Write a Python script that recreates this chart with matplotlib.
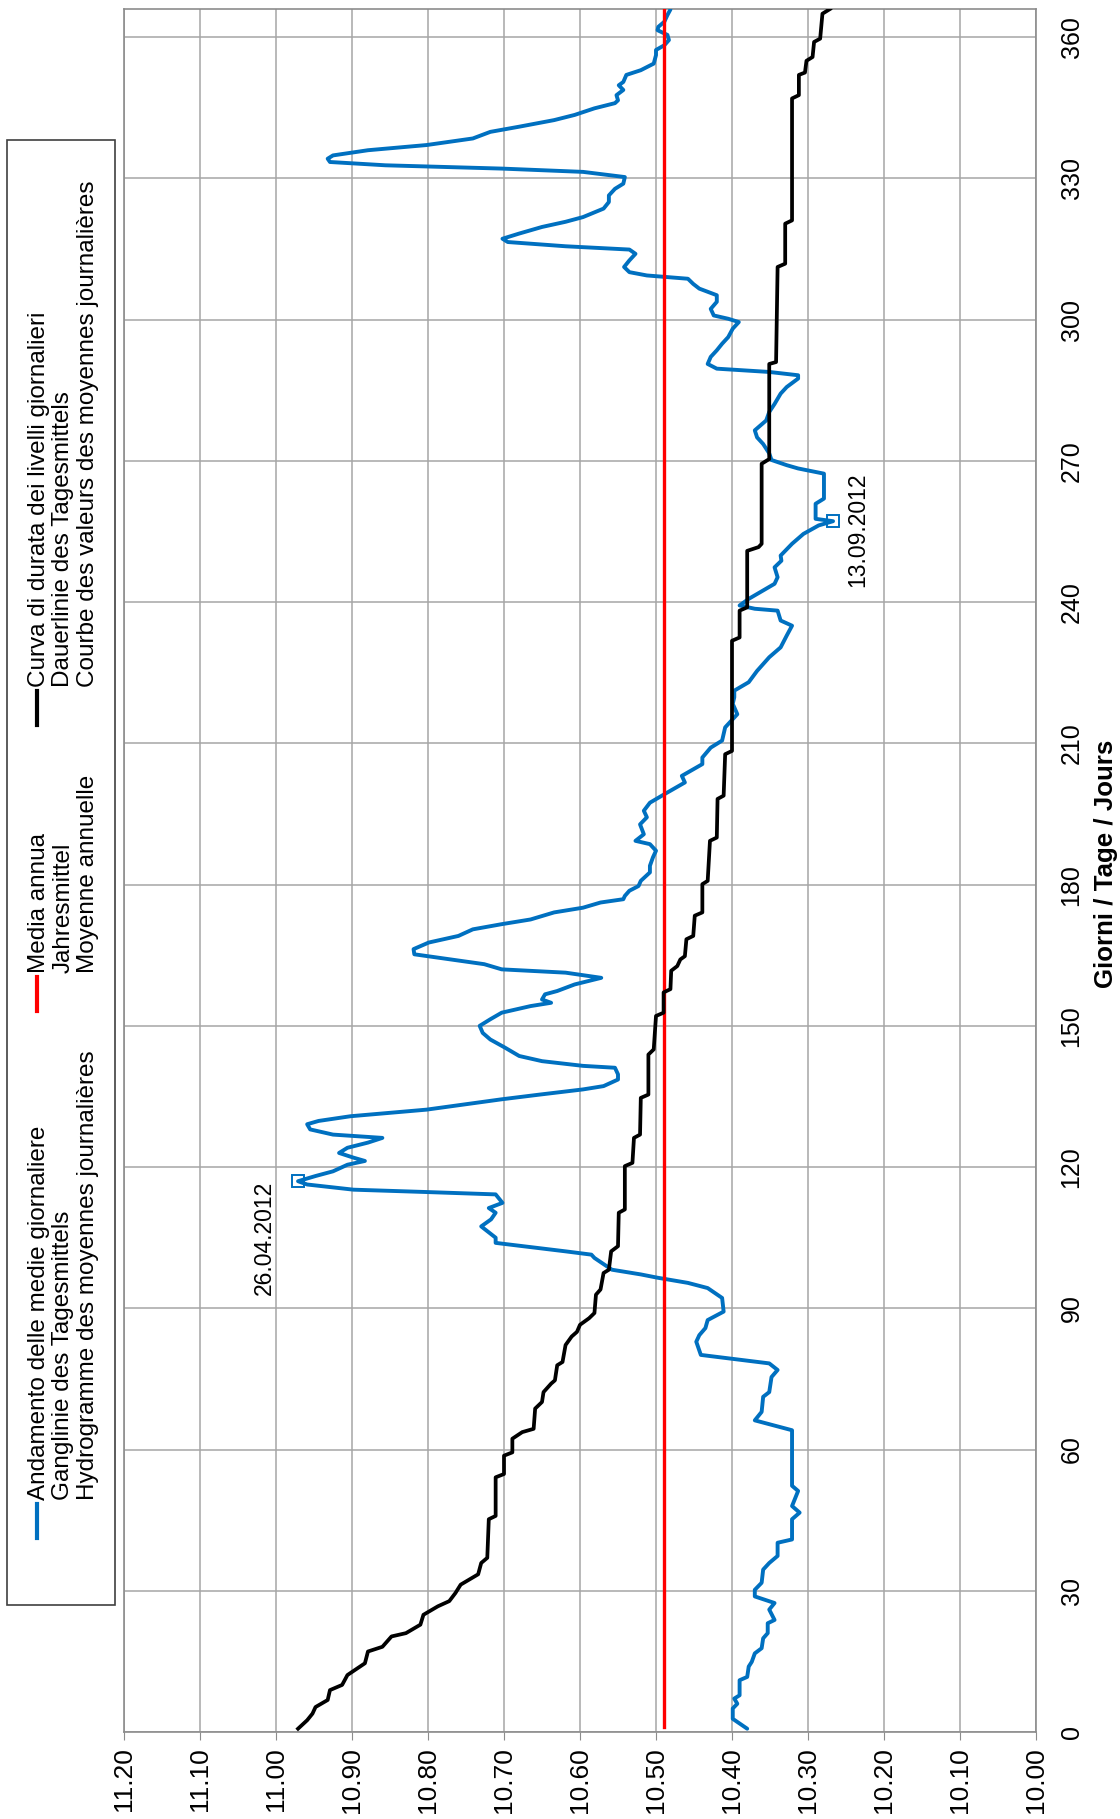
#!/usr/bin/env python3
import matplotlib
matplotlib.use("Agg")
import matplotlib.pyplot as plt
import numpy as np
from matplotlib.lines import Line2D
from matplotlib.patches import Rectangle

plt.rcParams["font.family"] = ["Liberation Sans", "DejaVu Sans"]

W, H = 1120, 1819

# daily mean water level (hydrograph), day of year / level
hydro_day = [
    0.7, 2.8, 5.0, 6.0, 7.1, 7.8, 11.0, 11.7, 13.9, 14.9, 16.7, 17.8, 19.9, 21.0,
    23.1, 23.8, 26.0, 27.4, 28.8, 30.2, 31.7, 34.5, 35.9, 37.4, 40.2, 40.9, 45.2,
    46.6, 48.0, 51.2, 52.3, 64.1, 66.2, 68.0, 71.2, 72.2, 75.4, 76.9, 78.3, 80.1,
    82.9, 84.3, 85.8, 87.5, 89.3, 92.2, 94.3, 95.4, 96.5, 97.2, 98.2, 100.7,
    101.4, 102.1, 103.9, 105.0, 107.4, 108.9, 110.3, 111.3, 112.4, 114.2, 114.7,
    115.2, 116.3, 117.0, 118.1, 119.1, 120.5, 121.3, 122.0, 123.0, 124.1, 125.2,
    126.2, 126.9, 128.0, 129.1, 129.8, 130.8, 132.2, 134.4, 135.4, 136.5, 137.2,
    138.6, 139.7, 141.1, 141.5, 142.5, 143.6, 145.4, 147.1, 148.5, 150.0, 151.4,
    152.8, 154.2, 154.9, 155.6, 156.7, 157.4, 158.8, 160.2, 161.3, 162.0, 163.1,
    164.5, 165.2, 166.3, 167.7, 169.1, 170.5, 171.6, 172.6, 174.1, 175.1, 176.2,
    176.9, 177.6, 178.7, 179.7, 180.8, 182.6, 184.0, 185.8, 187.2, 188.6, 189.3,
    190.7, 192.8, 194.3, 195.7, 197.4, 199.2, 201.7, 203.1, 205.6, 207.0, 209.1,
    210.6, 213.4, 216.2, 218.4, 219.8, 221.2, 223.0, 225.4, 228.3, 230.4, 232.9,
    235.0, 236.1, 238.2, 238.6, 239.3, 240.7, 243.9, 245.3, 247.4, 248.8, 249.9,
    252.4, 254.5, 256.3, 257.2, 257.7, 260.9, 262.0, 267.3, 268.4, 269.1, 270.2,
    271.6, 273.6, 275.0, 276.5, 278.6, 280.4, 282.1, 284.3, 285.7, 287.5, 288.2,
    288.9, 289.6, 290.6, 292.1, 293.5, 294.9, 296.3, 298.1, 299.5, 300.2, 300.9,
    302.3, 303.8, 305.2, 306.6, 307.6, 308.7, 309.4, 310.1, 311.2, 312.6, 314.0,
    314.9, 315.6, 316.5, 317.2, 318.3, 319.7, 320.8, 321.8, 323.6, 325.0, 326.4,
    327.8, 328.9, 330.3, 331.4, 332.1, 332.8, 333.5, 334.2, 334.9, 336.0, 337.1,
    338.5, 339.9, 341.0, 342.4, 343.5, 344.9, 346.0, 346.6, 347.7, 348.8, 349.8,
    350.5, 352.0, 353.0, 354.4, 356.2, 357.3, 358.3, 359.4, 360.5, 361.5, 362.2,
    363.3, 364.7, 365.9,
]
hydro_level = [
    10.380, 10.399, 10.399, 10.393, 10.397, 10.390, 10.390, 10.380, 10.378, 10.374,
    10.370, 10.361, 10.359, 10.353, 10.353, 10.344, 10.351, 10.344, 10.370, 10.370,
    10.361, 10.359, 10.351, 10.340, 10.340, 10.321, 10.321, 10.311, 10.321, 10.313,
    10.321, 10.321, 10.370, 10.361, 10.359, 10.351, 10.348, 10.340, 10.351, 10.441,
    10.447, 10.443, 10.435, 10.432, 10.411, 10.413, 10.432, 10.458, 10.498,
    10.520, 10.558, 10.581, 10.585, 10.619, 10.711, 10.711, 10.730, 10.717, 10.711,
    10.720, 10.702, 10.711, 10.802, 10.898, 10.959, 10.971, 10.948, 10.925, 10.906,
    10.883, 10.898, 10.917, 10.906, 10.879, 10.860, 10.925, 10.955, 10.959, 10.944,
    10.902, 10.802, 10.703, 10.653, 10.596, 10.569, 10.550, 10.550, 10.554, 10.596,
    10.650, 10.680, 10.699, 10.718, 10.728, 10.732, 10.718, 10.703, 10.665, 10.638,
    10.650, 10.646, 10.630, 10.607, 10.572, 10.619, 10.703, 10.726, 10.787, 10.818,
    10.819, 10.799, 10.760, 10.741, 10.703, 10.665, 10.634, 10.596, 10.573, 10.543,
    10.541, 10.535, 10.523, 10.520, 10.508, 10.508, 10.504, 10.500, 10.508, 10.527,
    10.516, 10.521, 10.512, 10.516, 10.508, 10.489, 10.462, 10.466, 10.439, 10.439,
    10.428, 10.413, 10.409, 10.393, 10.399, 10.397, 10.397, 10.378, 10.367, 10.351,
    10.336, 10.328, 10.321, 10.336, 10.340, 10.370, 10.390, 10.378, 10.344, 10.340,
    10.344, 10.335, 10.336, 10.321, 10.306, 10.286, 10.267, 10.290, 10.290, 10.279,
    10.279, 10.313, 10.328, 10.348, 10.351, 10.359, 10.367, 10.370, 10.355, 10.351,
    10.344, 10.336, 10.328, 10.313, 10.313, 10.351, 10.420, 10.432, 10.428, 10.420,
    10.413, 10.405, 10.399, 10.391, 10.405, 10.424, 10.428, 10.420, 10.420, 10.443,
    10.451, 10.458, 10.512, 10.535, 10.542, 10.535, 10.527, 10.535, 10.619, 10.695,
    10.702, 10.680, 10.650, 10.619, 10.596, 10.569, 10.562, 10.562, 10.554, 10.543,
    10.541, 10.596, 10.703, 10.856, 10.929, 10.932, 10.925, 10.879, 10.802, 10.741,
    10.718, 10.680, 10.634, 10.607, 10.581, 10.554, 10.550, 10.552, 10.543, 10.549,
    10.543, 10.539, 10.520, 10.503, 10.500, 10.500, 10.489, 10.483, 10.485, 10.498,
    10.497, 10.489, 10.485, 10.481,
]

# duration curve of the daily levels (sorted), vertices
dur_day = [
    0.7, 2.5, 3.9, 5.3, 6.8, 8.9, 10.0, 12.1, 14.6, 17.1, 18.1, 20.3, 21.0, 22.8,
    24.9, 26.7, 27.8, 29.5, 31.3, 33.5, 35.9, 37.0, 45.2, 45.9, 54.1, 54.8, 58.7,
    59.4, 62.3, 63.7, 64.4, 68.7, 70.1, 72.2, 74.0, 74.7, 77.9, 78.6, 82.2, 84.0,
    85.0, 86.5, 87.9, 89.0, 92.9, 94.0, 97.5, 98.2, 102.1, 103.2, 110.3, 111.0,
    120.2, 120.9, 126.2, 126.9, 134.7, 135.4, 143.9, 145.0, 152.1, 152.8, 157.1,
    157.8, 161.7, 162.7, 164.1, 164.8, 168.4, 169.1, 173.4, 174.1, 180.1, 180.8,
    189.3, 190.0, 198.2, 198.9, 207.7, 208.4, 231.8, 232.5, 238.2, 238.9, 250.9,
    251.7, 252.4, 269.4, 270.4, 290.6, 291.0, 311.2, 311.9, 320.4, 321.1, 347.0,
    347.7, 352.0, 352.5, 355.0, 355.8, 359.0, 359.7, 365.0, 366.0,
]
dur_level = [
    10.971, 10.959, 10.952, 10.948, 10.932, 10.929, 10.913, 10.906, 10.883, 10.879,
    10.860, 10.848, 10.829, 10.810, 10.806, 10.787, 10.772, 10.764, 10.757, 10.734,
    10.730, 10.722, 10.720, 10.711, 10.711, 10.700, 10.700, 10.689, 10.689, 10.676,
    10.661, 10.659, 10.650, 10.648, 10.638, 10.633, 10.630, 10.623, 10.619, 10.611,
    10.604, 10.600, 10.588, 10.581, 10.579, 10.573, 10.569, 10.562, 10.559, 10.550,
    10.549, 10.541, 10.541, 10.531, 10.529, 10.521, 10.520, 10.510, 10.510, 10.503,
    10.500, 10.490, 10.490, 10.481, 10.480, 10.472, 10.468, 10.462, 10.460, 10.451,
    10.449, 10.439, 10.439, 10.432, 10.429, 10.420, 10.419, 10.411, 10.409, 10.400,
    10.400, 10.390, 10.390, 10.380, 10.380, 10.365, 10.361, 10.361, 10.351, 10.351,
    10.342, 10.340, 10.330, 10.330, 10.321, 10.321, 10.312, 10.312, 10.304, 10.302,
    10.294, 10.292, 10.284, 10.281, 10.271,
]

mean_level = 10.49
mean_days = [1, 366]

peak_labels = ["26.04.2012", "13.09.2012"]

level_ticks = [10.0, 10.1, 10.2, 10.3, 10.4, 10.5, 10.6, 10.7, 10.8, 10.9, 11.0, 11.1, 11.2]
day_ticks = [0, 30, 60, 90, 120, 150, 180, 210, 240, 270, 300, 330, 360]

legend_colors = ["#0070C0", "#FF0000", "#000000"]
legend_texts = [
    ["Andamento delle medie giornaliere", "Ganglinie des Tagesmittels",
     "Hydrogramme des moyennes journalières"],
    ["Media annua", "Jahresmittel", "Moyenne annuelle"],
    ["Curva di durata dei livelli giornalieri", "Dauerlinie des Tagesmittels",
     "Courbe des valeurs des moyennes journalières"],
]
axis_title = "Giorni / Tage / Jours"

GRID = "#a6a6a6"
SPINE = "#8c8c8c"


def fx(px):
    return px / W


def fy(py):
    return 1 - py / H


def main():
    fig = plt.figure(figsize=(W / 100, H / 100), dpi=100)
    ax = fig.add_axes([fx(124), fy(1732), fx(1036 - 124), (1732 - 9) / H])

    # chart is drawn turned by 90 degrees: levels across, days upward
    ax.plot(hydro_level, hydro_day, color=legend_colors[0], lw=2.8,
            solid_joinstyle="round", solid_capstyle="round", zorder=3)
    ax.plot([mean_level, mean_level], mean_days, color=legend_colors[1], lw=2.4, zorder=4)
    ax.plot(dur_level, dur_day, color=legend_colors[2], lw=2.7, zorder=5)

    lv = np.array(hydro_level)
    dy = np.array(hydro_day)
    i_max, i_min = int(np.argmax(lv)), int(np.argmin(lv))
    ax.plot([lv[i_max], lv[i_min]], [dy[i_max], dy[i_min]], "s", ms=9,
            mfc="none", mec=legend_colors[0], mew=1.4, zorder=6)
    ax.annotate(peak_labels[0], (lv[i_max], dy[i_max]), xytext=(-24, 0),
                textcoords="offset points", rotation=90, ha="center", va="top",
                fontsize=16.5)
    ax.annotate(peak_labels[1], (lv[i_min], dy[i_min]), xytext=(18, -6),
                textcoords="offset points", rotation=90, ha="center", va="center",
                fontsize=16.5)

    ax.set_xlim(11.2, 10.0)
    ax.set_ylim(0, 366)
    ax.set_xticks(level_ticks, [f"{v:.2f}" for v in level_ticks], rotation=90,
                  fontsize=19)
    ax.yaxis.tick_right()
    ax.set_yticks(day_ticks, [str(d) for d in day_ticks], rotation=90,
                  va="center", fontsize=18)
    ax.tick_params(axis="x", length=6, color=SPINE, pad=5)
    ax.tick_params(axis="y", length=0, pad=17)
    ax.grid(True, color=GRID, lw=1.1)
    ax.set_axisbelow(True)
    for sp in ax.spines.values():
        sp.set_color(SPINE)
        sp.set_linewidth(1.2)

    fig.text(fx(1106), fy(864), axis_title, rotation=90, ha="center",
             va="center", fontsize=18.6, fontweight="bold")

    # legend box, text turned like the chart
    fig.add_artist(Rectangle((fx(7), fy(1605)), fx(115 - 7), (1605 - 140) / H,
                             transform=fig.transFigure, fill=False,
                             edgecolor="#404040", lw=1.2))
    starts = [1500, 973, 687]
    cols = [39, 63.5, 88]
    for color, lines, y0 in zip(legend_colors, legend_texts, starts):
        fig.add_artist(Line2D([fx(cols[0] - 2), fx(cols[0] - 2)], [fy(y0 + 38), fy(y0 + 4)],
                              transform=fig.transFigure, color=color, lw=3))
        for x, line in zip(cols, lines):
            fig.text(fx(x), fy(y0), line, rotation=90, ha="center", va="bottom",
                     fontsize=17.5)

    fig.savefig("out.png", dpi=100)


if __name__ == "__main__":
    main()
